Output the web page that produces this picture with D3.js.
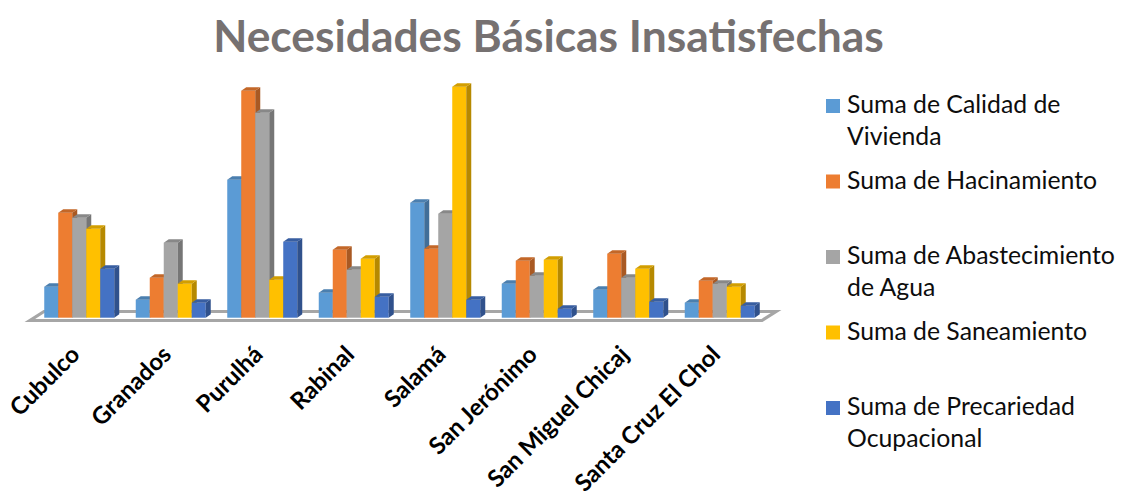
<!DOCTYPE html>
<html>
<head>
<meta charset="utf-8">
<script src="https://cdn.jsdelivr.net/npm/d3@7"></script>
<style>
  body { margin: 0; background: #fff; }
  svg { font-family: Lato, "Open Sans", sans-serif; }
</style>
</head>
<body>
<div id="chart"></div>
<script>
// data (no value axis shown, units are relative)
const categories = ['Cubulco', 'Granados', 'Purulhá', 'Rabinal', 'Salamá', 'San Jerónimo', 'San Miguel Chicaj', 'Santa Cruz El Chol'];
const seriesLabels = [
  ['Suma de Calidad de', 'Vivienda'],
  ['Suma de Hacinamiento'],
  ['Suma de Abastecimiento', 'de Agua'],
  ['Suma de Saneamiento'],
  ['Suma de Precariedad', 'Ocupacional']
];
const calidadVivienda = [31, 18, 138, 25, 115, 34, 28, 15];
const hacinamiento = [105, 40, 227, 68, 69, 57, 64, 37];
const abastecimientoAgua = [100, 75, 205, 48, 104, 42, 40, 34];
const saneamiento = [89, 34, 38, 59, 231, 58, 49, 31];
const precariedad = [49, 15, 76, 21, 18, 9, 16, 12];
const seriesColors = ['#5B9BD5', '#ED7D31', '#A5A5A5', '#FFC000', '#4472C4'];

const series = [calidadVivienda, hacinamiento, abastecimientoAgua, saneamiento, precariedad];

const width = 1122, height = 491;
const svg = d3.select('#chart').append('svg')
  .attr('width', width)
  .attr('height', height);

// title
const title = svg.append('text')
  .attr('x', 548.5)
  .attr('y', 52)
  .attr('text-anchor', 'middle')
  .attr('font-size', 44)
  .attr('font-weight', 700)
  .attr('fill', '#767171')
  .text('Necesidades Básicas Insatisfechas');
fitWidth(title, 671);

// floor geometry
const floorFront = 320.5;
const floorDepth = [14, -9];
const barShift = [3.5, -2.8];
const base = floorFront + barShift[1];
const side = [5, -3.5];

const x = d3.scaleBand()
  .domain(categories)
  .range([30, 762])
  .paddingInner(0.235)
  .paddingOuter(0.1175);

const xs = d3.scaleBand()
  .domain(d3.range(series.length))
  .range([0, x.bandwidth()]);

const y = d3.scaleLinear()
  .domain([0, 240])
  .range([base, base - 240]);

// floor
const [fx0, fx1] = x.range();
svg.append('polygon')
  .attr('points', [
    [fx0, floorFront], [fx1, floorFront],
    [fx1 + floorDepth[0], floorFront + floorDepth[1]],
    [fx0 + floorDepth[0], floorFront + floorDepth[1]]
  ].map(p => p.join(',')).join(' '))
  .attr('fill', '#fff')
  .attr('stroke', '#A6A6A6')
  .attr('stroke-width', 3.2)
  .attr('stroke-linejoin', 'miter');

// bars, drawn left to right so each one covers the side of the one before
const bars = [];
categories.forEach((c, ci) => {
  series.forEach((s, si) => {
    bars.push({ cat: c, si, value: s[ci] });
  });
});

const g = svg.append('g');
const barG = g.selectAll('g.bar')
  .data(bars)
  .enter()
  .append('g')
  .attr('class', 'bar');

barG.each(function (d) {
  const el = d3.select(this);
  const x0 = x(d.cat) + barShift[0] + xs(d.si);
  const w = xs.bandwidth();
  const yt = y(d.value);
  const col = d3.color(seriesColors[d.si]);
  const pts = a => a.map(p => p.join(',')).join(' ');

  // front face
  el.append('rect')
    .attr('x', x0)
    .attr('y', yt)
    .attr('width', w)
    .attr('height', base - yt)
    .attr('fill', col);

  // right side
  el.append('polygon')
    .attr('points', pts([
      [x0 + w, yt], [x0 + w + side[0], yt + side[1]],
      [x0 + w + side[0], base + side[1]], [x0 + w, base]
    ]))
    .attr('fill', col.darker(0.95));

  // top
  el.append('polygon')
    .attr('points', pts([
      [x0, yt], [x0 + w, yt],
      [x0 + w + side[0], yt + side[1]], [x0 + side[0], yt + side[1]]
    ]))
    .attr('fill', col.darker(0.55));
});

// category labels
const labels = svg.append('g')
  .selectAll('text')
  .data(categories)
  .enter()
  .append('text')
  .attr('transform', d => {
    const cx = x(d) + barShift[0] + x.bandwidth() / 2;
    return `translate(${cx + 2},${356}) rotate(-45)`;
  })
  .attr('text-anchor', 'end')
  .attr('font-size', 24)
  .attr('font-weight', 700)
  .attr('fill', '#000')
  .text(d => d);

// scale all labels the same way, using the longest one as reference
const longest = labels.filter(d => d === 'Santa Cruz El Chol');
const lw = longest.node().getComputedTextLength();
labels.attr('font-size', 24 * 194 / lw);

// legend
const legend = svg.append('g')
  .selectAll('g')
  .data(seriesLabels)
  .enter()
  .append('g')
  .attr('transform', (d, i) => `translate(826,${99 + 75.5 * i})`);

legend.append('rect')
  .attr('width', 14)
  .attr('height', 14)
  .attr('fill', (d, i) => seriesColors[i]);

const legendText = legend.append('text')
  .attr('x', 21)
  .attr('y', 14)
  .attr('font-size', 24)
  .attr('fill', '#0d0d0d');

legendText.selectAll('tspan')
  .data(d => d)
  .enter()
  .append('tspan')
  .attr('x', 21)
  .attr('dy', (d, i) => i === 0 ? 0 : 31.5)
  .text(d => d);

// size legend font off the widest line
const probe = svg.append('text').attr('font-size', 24).text('Suma de Abastecimiento');
const pw = probe.node().getComputedTextLength();
probe.remove();
legendText.attr('font-size', 24 * 268 / pw);

function fitWidth(sel, target) {
  const fs = parseFloat(sel.attr('font-size'));
  const w = sel.node().getComputedTextLength();
  sel.attr('font-size', fs * target / w);
}
</script>
</body>
</html>
